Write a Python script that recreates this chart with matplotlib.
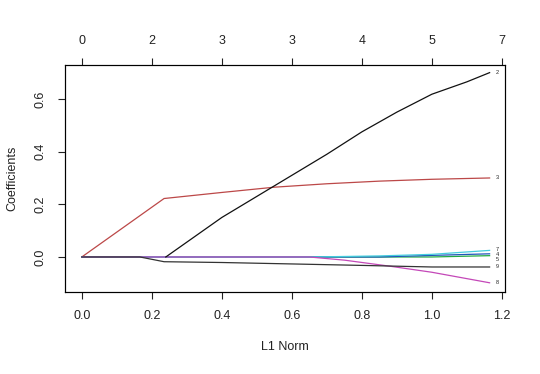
import matplotlib
matplotlib.use("Agg")
import matplotlib.pyplot as plt

plt.rcParams['font.family'] = ['Liberation Sans', 'DejaVu Sans']

# coefficient paths (L1 norm, coefficient)
x2 = [0.24, 0.4, 0.6, 0.7, 0.8, 0.9, 1.0, 1.1, 1.165]
y2 = [0.0, 0.15, 0.31, 0.39, 0.475, 0.55, 0.618, 0.665, 0.70]
x3 = [0.0, 0.235, 0.4, 0.55, 0.7, 0.85, 1.0, 1.165]
y3 = [0.0, 0.222, 0.245, 0.265, 0.278, 0.288, 0.295, 0.30]
x9 = [0.0, 0.166, 0.235, 0.4, 0.62, 0.8, 1.0, 1.165]
y9 = [0.0, 0.0, -0.018, -0.021, -0.027, -0.032, -0.038, -0.038]
x8 = [0.0, 0.166, 0.65, 0.75, 0.88, 1.0, 1.165]
y8 = [0.0, 0.0, 0.0, -0.012, -0.035, -0.058, -0.098]
x7 = [0.0, 0.66, 0.85, 1.0, 1.165]
y7 = [0.0, 0.0, 0.004, 0.01, 0.025]
x4 = [0.0, 0.85, 1.0, 1.165]
y4 = [0.0, 0.0, 0.006, 0.012]
x5 = [0.0, 1.0, 1.165]
y5 = [0.0, 0.0, 0.005]

bottom_ticks = [0.0, 0.2, 0.4, 0.6, 0.8, 1.0, 1.2]
top_labels = ["0", "2", "3", "3", "4", "5", "7"]
y_ticks = [0.0, 0.2, 0.4, 0.6]

series = [
    (x3, y3, "#BC4848", "3"),
    (x5, y5, "#22AA44", "5"),
    (x4, y4, "#2255BB", "4"),
    (x7, y7, "#44CCDD", "7"),
    (x8, y8, "#C448B8", "8"),
    (x9, y9, "#333333", "9"),
    (x2, y2, "#111111", "2"),
]

fig = plt.figure(figsize=(5.4, 3.74), dpi=100)
ax = fig.add_axes([65/540, 1-292/374, 440/540, 227/374])

for xs, ys, c, lab in series:
    ax.plot(xs, ys, color=c, lw=0.9)

lab_pos = {"7": 0.027, "4": 0.008, "5": -0.011}
for xs, ys, c, lab in series:
    yy = lab_pos.get(lab, ys[-1])
    ax.text(1.186, yy, lab, fontsize=4, ha='center', va='center', color='#222222')

ax.set_xlim(-0.048, 1.209)
ax.set_ylim(-0.133, 0.729)
ax.set_xticks(bottom_ticks)
ax.set_xticklabels(["0.0", "0.2", "0.4", "0.6", "0.8", "1.0", "1.2"])
ax.set_yticks(y_ticks)
ax.set_yticklabels(["0.0", "0.2", "0.4", "0.6"], rotation=90, va='center')
ax.tick_params(direction='out', length=5, width=0.8, labelsize=9, pad=8, colors='#222222')
for s in ax.spines.values():
    s.set_linewidth(0.8)
    s.set_color('#222222')

ax2 = ax.twiny()
ax2.set_xlim(ax.get_xlim())
ax2.set_xticks(bottom_ticks)
ax2.set_xticklabels(top_labels)
ax2.tick_params(direction='out', length=5, width=0.8, labelsize=9, pad=8, colors='#222222')

ax.set_xlabel("L1 Norm", fontsize=9, labelpad=14, color='#222222')
ax.set_ylabel("Coefficients", fontsize=9, labelpad=12, color='#222222')

fig.savefig("out.png", dpi=100)
